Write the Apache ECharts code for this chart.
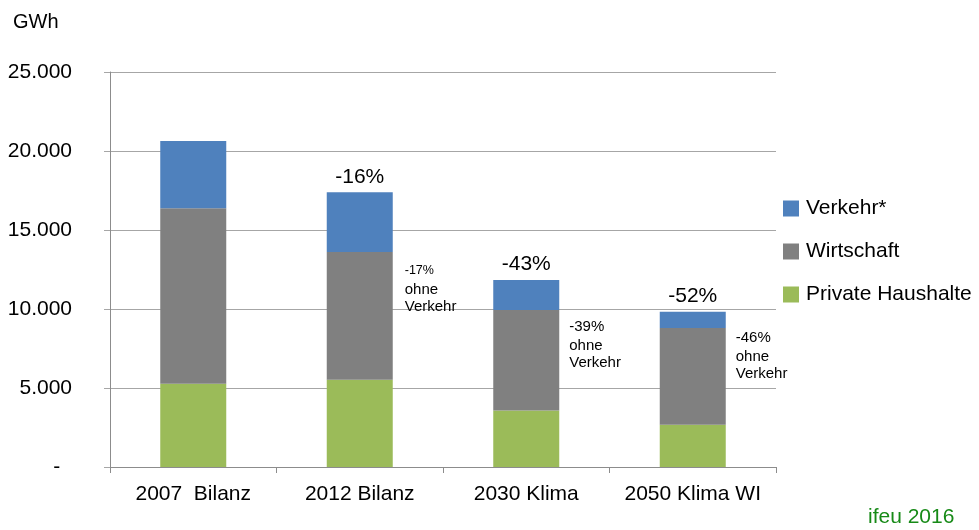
<!DOCTYPE html>
<html>
<head>
<meta charset="utf-8">
<script src="https://cdn.jsdelivr.net/npm/echarts@6/dist/echarts.min.js"></script>
<style>
  html, body { margin: 0; padding: 0; background: #fff; }
  #chart { width: 979px; height: 530px; }
</style>
</head>
<body>
<div id="chart"></div>
<script>
  // Werte in GWh
  var categories = ['2007  Bilanz', '2012 Bilanz', '2030 Klima', '2050 Klima WI'];
  var privateHaushalte = [5270, 5520, 3580, 2680];
  var wirtschaft = [11110, 8080, 6350, 6110];
  var verkehr = [4260, 3790, 1900, 1030];
  var totalChange = ['', '-16%', '-43%', '-52%'];
  var changeOhneVerkehr = ['', '-17%', '-39%', '-46%'];
  var yTicks = [0, 5000, 10000, 15000, 20000, 25000];

  var FONT = 'Liberation Sans, Arial, sans-serif';
  var chart = echarts.init(document.getElementById('chart'));

  // notes next to the grey block; first note smaller
  var noteOffsetY = [0, 7, 7, 0];
  var wirtschaftData = wirtschaft.map(function (v, i) {
    if (!changeOhneVerkehr[i]) return v;
    return {
      value: v,
      label: {
        show: true,
        position: [i === 1 ? 78 : 76, noteOffsetY[i]],
        formatter: '{' + (i === 1 ? 'p' : 'q') + '|' + changeOhneVerkehr[i] + '}\n{t|ohne}\n{t|Verkehr}'
      }
    };
  });

  chart.setOption({
    animation: false,
    textStyle: { fontFamily: FONT },
    grid: { left: 110, right: 203, top: 72, bottom: 63 },
    legend: {
      orient: 'vertical',
      left: 783,
      top: 198,
      padding: 0,
      itemWidth: 16,
      itemHeight: 16,
      itemGap: 22,
      icon: 'rect',
      textStyle: { fontSize: 21, color: '#000', fontFamily: FONT, padding: [0, 0, 0, 2] },
      data: ['Verkehr*', 'Wirtschaft', 'Private Haushalte']
    },
    xAxis: {
      type: 'category',
      data: categories,
      axisLine: { lineStyle: { color: '#8c8c8c' } },
      axisTick: { show: true, interval: 0, length: 6, lineStyle: { color: '#8c8c8c' } },
      axisLabel: { interval: 0, fontSize: 21, color: '#000', margin: 17, fontFamily: FONT }
    },
    yAxis: {
      type: 'value',
      min: yTicks[0],
      max: yTicks[yTicks.length - 1],
      interval: yTicks[1] - yTicks[0],
      axisLine: { show: true, lineStyle: { color: '#8c8c8c' } },
      axisTick: { show: true, length: 6, lineStyle: { color: '#a6a6a6' } },
      splitLine: { lineStyle: { color: '#a6a6a6' } },
      axisLabel: {
        fontSize: 21,
        color: '#000',
        margin: 38,
        fontFamily: FONT,
        formatter: function (v) {
          if (v === 0) return '-  ';
          return v.toLocaleString('de-DE');
        }
      }
    },
    series: [
      {
        name: 'Private Haushalte',
        type: 'bar',
        stack: 'total',
        barWidth: 66,
        itemStyle: { color: '#9bbb59' },
        data: privateHaushalte
      },
      {
        name: 'Wirtschaft',
        type: 'bar',
        stack: 'total',
        itemStyle: { color: '#808080' },
        label: {
          show: false,
          color: '#000',
          align: 'left',
          verticalAlign: 'top',
          rich: {
            p: { fontSize: 12.5, lineHeight: 22, fontFamily: FONT, color: '#000' },
            q: { fontSize: 15, lineHeight: 20, fontFamily: FONT, color: '#000' },
            t: { fontSize: 15, lineHeight: 17, fontFamily: FONT, color: '#000' }
          }
        },
        data: wirtschaftData
      },
      {
        name: 'Verkehr*',
        type: 'bar',
        stack: 'total',
        itemStyle: { color: '#4f81bd' },
        label: {
          show: true,
          position: 'top',
          distance: 5,
          fontSize: 21,
          color: '#000',
          fontFamily: FONT,
          formatter: function (p) { return totalChange[p.dataIndex]; }
        },
        data: verkehr
      }
    ],
    graphic: [
      {
        type: 'text',
        left: 13,
        top: 12,
        style: { text: 'GWh', fontSize: 20, fill: '#000', fontFamily: FONT }
      },
      {
        type: 'text',
        left: 868,
        top: 507,
        style: { text: 'ifeu 2016', fontSize: 21, fill: '#178a17', fontFamily: FONT }
      }
    ]
  });
</script>
</body>
</html>
